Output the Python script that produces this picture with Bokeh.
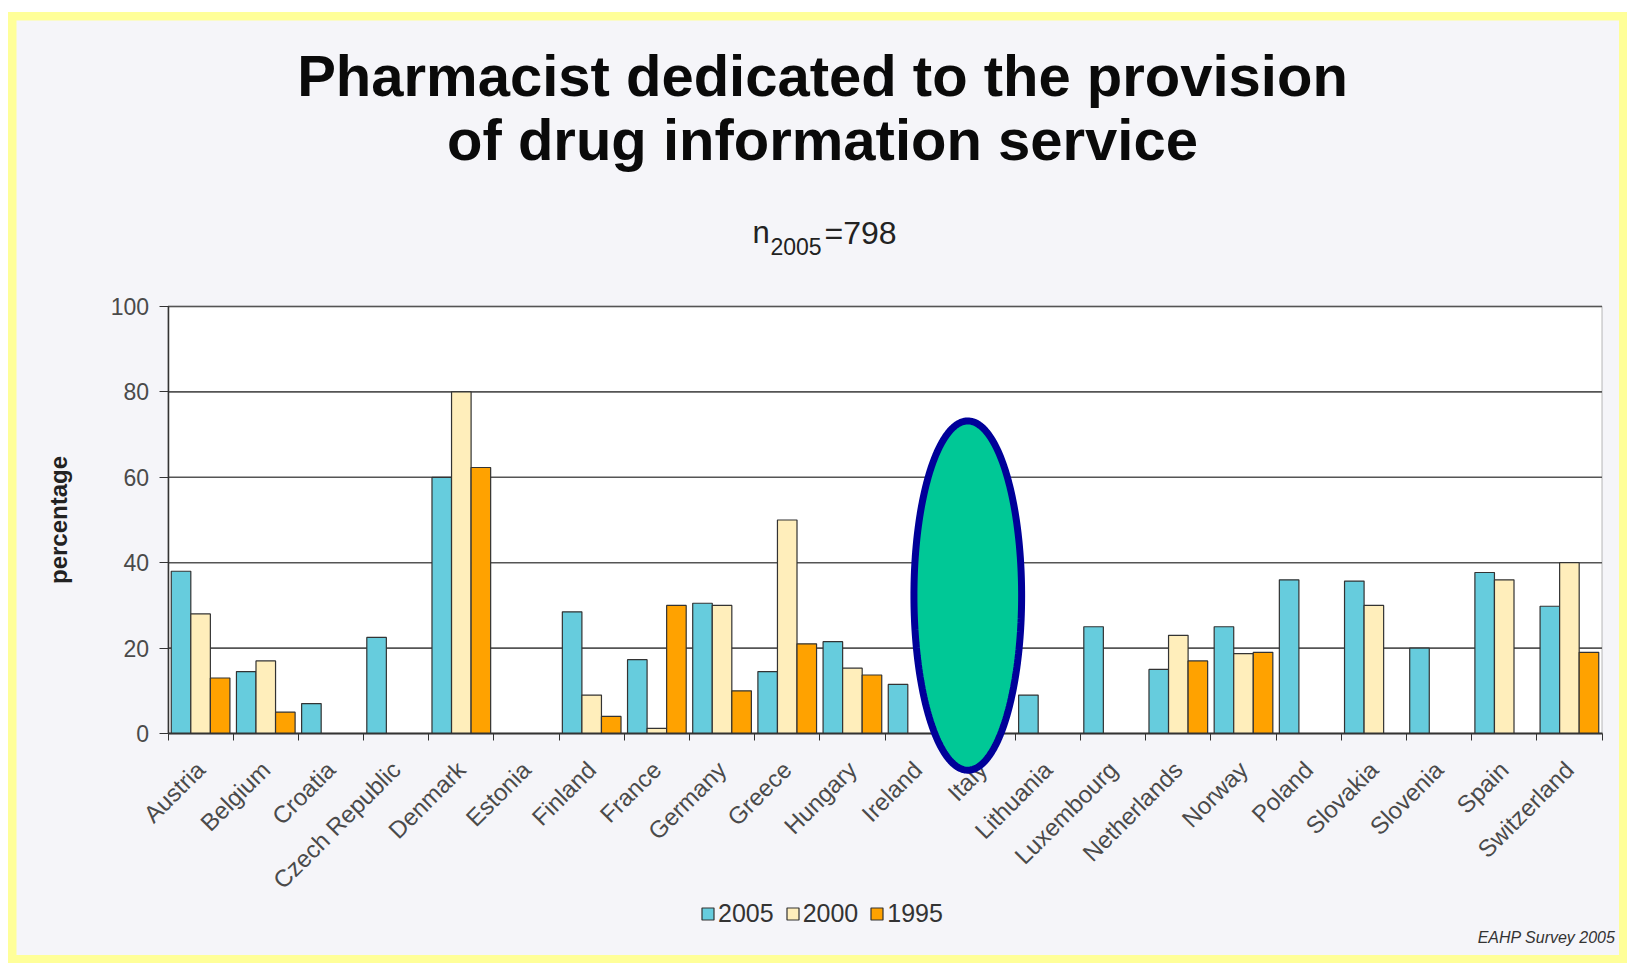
import numpy as np
from bokeh.plotting import figure
from bokeh.models import (Range1d, FixedTicker, Label, Legend, LegendItem,
                          ColumnDataSource, PolyAnnotation, BoxAnnotation)
from bokeh.layouts import column
from bokeh.embed import file_html
from bokeh.resources import INLINE

# ---------------- data ----------------
countries = ["Austria", "Belgium", "Croatia", "Czech Republic", "Denmark", "Estonia",
             "Finland", "France", "Germany", "Greece", "Hungary", "Ireland", "Italy",
             "Lithuania", "Luxembourg", "Netherlands", "Norway", "Poland", "Slovakia",
             "Slovenia", "Spain", "Switzerland"]
years = ["2005", "2000", "1995"]
v2005 = [38, 14.5, 7, 22.5, 60, None, 28.5, 17.3, 30.5, 14.5, 21.5, 11.5, None,
         9, 25, 15, 25, 36, 35.7, 20, 37.7, 29.8]
v2000 = [28, 17, None, None, 80, None, 9, 1.2, 30, 50, 15.3, None, None,
         None, None, 23, 18.7, None, 30, None, 36, 40]
v1995 = [13, 5, None, None, 62.3, None, 4, 30, 10, 21, 13.7, None, None,
         None, None, 17, 19, None, None, None, None, 19]
y_ticks = [0, 20, 40, 60, 80, 100]
title_lines = ["Pharmacist dedicated to the provision", "of drug information service"]
subtitle_parts = ["n", "2005", "=798"]
source_note = "EAHP Survey 2005"
y_label = "percentage"

# ---------------- layout / style ----------------
FONT = "Liberation Sans"
colors = ["#66CCDD", "#FFEEBB", "#FFA200"]
offsets = [-0.3, 0.0, 0.3]
bar_w = 0.3
n = len(countries)

FIG_W, FIG_H = 1603, 935
ORIGIN_X, ORIGIN_Y = 16, 20       # page offset of the figure (margin + yellow padding)
plot_l, plot_r = 167.5 - ORIGIN_X, 1601.5 - ORIGIN_X
plot_t, plot_b = 306 - ORIGIN_Y, 733 - ORIGIN_Y
ux = (plot_r - plot_l) / n
uy = (plot_b - plot_t) / 100.0


def sx(page_x):
    return page_x - ORIGIN_X


def sy(page_y):
    return FIG_H + ORIGIN_Y - page_y


p = figure(width=FIG_W, height=FIG_H,
           x_range=Range1d(-plot_l / ux, (FIG_W - plot_l) / ux),
           y_range=Range1d(-(FIG_H - plot_b) / uy, 100 + plot_t / uy),
           output_backend="svg", toolbar_location=None, title=None, min_border=0)
p.background_fill_color = "#F5F5F9"
p.border_fill_color = "#F5F5F9"
p.outline_line_color = None

# white plot area with border
p.add_layout(BoxAnnotation(left=0, right=n, bottom=0, top=100, fill_color="white",
                           fill_alpha=1.0, line_color="#666666", line_width=1.5,
                           level="underlay"))

# gridlines
p.segment(x0=[0] * (len(y_ticks) - 1), x1=[n] * (len(y_ticks) - 1),
          y0=y_ticks[1:], y1=y_ticks[1:], line_color="#555555", line_width=1.6)

renderers = []
for vals, off, col in zip([v2005, v2000, v1995], offsets, colors):
    xs = [i + 0.5 + off for i, v in enumerate(vals) if v is not None]
    tops = [v for v in vals if v is not None]
    src = ColumnDataSource(dict(x=xs, top=tops))
    r = p.vbar(x="x", top="top", bottom=0, width=bar_w, source=src,
               fill_color=col, line_color="#333333", line_width=1.2)
    renderers.append(r)

p.xgrid.visible = False
p.ygrid.visible = False

# y axis
ya = p.yaxis[0]
ya.fixed_location = 0
ya.bounds = (0, 100)
ya.ticker = FixedTicker(ticks=y_ticks)
ya.axis_label = y_label
ya.axis_label_text_font = FONT
ya.axis_label_text_font_style = "bold"
ya.axis_label_text_font_size = "24px"
ya.axis_label_text_color = "#222222"
ya.axis_label_standoff = 36
ya.major_label_text_font = FONT
ya.major_label_text_font_size = "23px"
ya.major_label_text_color = "#4a4a4a"
ya.major_label_standoff = 10
ya.major_tick_out = 9
ya.major_tick_in = 0
ya.minor_tick_out = 0
ya.minor_tick_in = 0
ya.axis_line_color = "#333333"
ya.axis_line_width = 1.5
ya.major_tick_line_color = "#333333"

# x axis
xa = p.xaxis[0]
xa.fixed_location = 0
xa.bounds = (0, n)
xa.ticker = FixedTicker(ticks=[i + 0.5 for i in range(n)],
                        minor_ticks=list(range(n + 1)))
xa.major_label_overrides = {i + 0.5: c for i, c in enumerate(countries)}
xa.major_label_orientation = np.pi / 4
xa.major_label_text_font = FONT
xa.major_label_text_font_size = "24px"
xa.major_label_text_color = "#4a4a4a"
xa.major_label_standoff = 25
xa.major_tick_out = 0
xa.major_tick_in = 0
xa.minor_tick_out = 7
xa.minor_tick_in = 0
xa.minor_tick_line_color = "#333333"
xa.axis_line_color = "#333333"
xa.axis_line_width = 2

# highlight ellipse over Italy
ell_cx, ell_cy, ell_a, ell_b = 12.27, 32.3, 0.826, 40.9
t = np.linspace(0, 2 * np.pi, 240)
p.add_layout(PolyAnnotation(xs=list(ell_cx + ell_a * np.cos(t)),
                            ys=list(ell_cy + ell_b * np.sin(t)),
                            fill_color="#00C896", fill_alpha=1.0,
                            line_color="#000099", line_alpha=1.0, line_width=7))

# legend
legend = Legend(items=[LegendItem(label=y, renderers=[r]) for y, r in zip(years, renderers)],
                orientation="horizontal", location=(sx(700), 27),
                background_fill_alpha=0, border_line_alpha=0,
                label_text_font=FONT, label_text_font_size="25px",
                label_text_color="#333333", glyph_width=15, glyph_height=15,
                spacing=11, label_standoff=3, padding=0, margin=0)
p.add_layout(legend)

# texts
for txt, py in zip(title_lines, [75, 139]):
    p.add_layout(Label(x=sx(822), y=sy(py), x_units="screen", y_units="screen", text=txt,
                       text_align="center", text_baseline="alphabetic",
                       text_font=FONT, text_font_size="58px", text_font_style="bold",
                       text_color="#0a0a0a"))
p.add_layout(Label(x=sx(752), y=sy(232), x_units="screen", y_units="screen",
                   text=subtitle_parts[0], text_align="left", text_baseline="alphabetic",
                   text_font=FONT, text_font_size="31px", text_color="#222222"))
p.add_layout(Label(x=sx(770), y=sy(246), x_units="screen", y_units="screen",
                   text=subtitle_parts[1], text_align="left", text_baseline="alphabetic",
                   text_font=FONT, text_font_size="23px", text_color="#222222"))
p.add_layout(Label(x=sx(824), y=sy(232), x_units="screen", y_units="screen",
                   text=subtitle_parts[2], text_align="left", text_baseline="alphabetic",
                   text_font=FONT, text_font_size="32px", text_color="#222222"))
p.add_layout(Label(x=sx(1615), y=sy(937), x_units="screen", y_units="screen",
                   text=source_note, text_align="right", text_baseline="alphabetic",
                   text_font=FONT, text_font_size="16px", text_font_style="italic",
                   text_color="#333333"))

layout = column(p, styles={"background-color": "#FFFF99", "padding": "8px",
                           "margin-left": "8px", "margin-top": "12px"})
open("out.html", "w").write(file_html(layout, INLINE))
